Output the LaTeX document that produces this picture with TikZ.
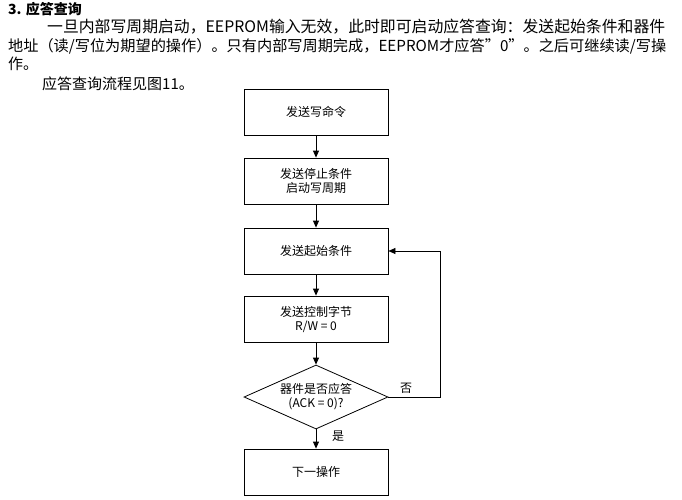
\documentclass[tikz,border=0pt]{standalone}
\usepackage{fontspec}
\setmainfont{Noto Sans CJK SC}
\usetikzlibrary{shapes.geometric,arrows.meta}
\begin{document}
\begin{tikzpicture}[x=1pt,y=-1pt,
  box/.style={draw,minimum width=144pt,minimum height=46pt,font=\fontsize{12}{14}\selectfont,align=center,line width=0.8pt},
  txt/.style={anchor=west,inner sep=0,font=\fontsize{15}{17}\selectfont},
  arr/.style={-{Triangle[length=7pt,width=6pt]},line width=0.8pt}]
\useasboundingbox (0,0) rectangle (682,500);
\node[txt,font=\fontsize{14}{15}\selectfont\bfseries] (h) at (8,9) {3. 应答查询};
\node[txt] (l1) at (47,27) {\resizebox{618pt}{!}{一旦内部写周期启动，EEPROM输入无效，此时即可启动应答查询：发送起始条件和器件}};
\node[txt] (l2) at (8,46) {\resizebox{658pt}{!}{地址（读/写位为期望的操作）。只有内部写周期完成，EEPROM才应答\symbol{34}0\symbol{34}。之后可继续读/写操}};
\node[txt] (l3) at (8,64) {作。};
\node[txt] (l4) at (42,84) {应答查询流程见图11。};
\node[box] (b1) at (316,112) {发送写命令};
\node[box] (b2) at (316,181) {发送停止条件\\启动写周期};
\node[box] (b3) at (316,251) {发送起始条件};
\node[box] (b4) at (316,319) {发送控制字节\\R/W = 0};
\node[draw,diamond,aspect=2.25,minimum width=144pt,minimum height=64pt,inner sep=0,line width=0.8pt,align=center,font=\fontsize{12}{14}\selectfont] (d) at (316,397) {器件是否应答\\(ACK = 0)?};
\node[box] (b5) at (316,472) {下一操作};
\draw[arr] (b1) -- (b2);
\draw[arr] (b2) -- (b3);
\draw[arr] (b3) -- (b4);
\draw[arr] (b4) -- (d);
\draw[arr] (d) -- (b5);
\coordinate (c1) at (440,397);
\coordinate (c2) at (440,251);
\draw[arr,line width=0.6pt] (d.east) -- (c1) -- (c2) -- (b3.east);
\node[font=\fontsize{12}{14}\selectfont] (no) at (406,388) {否};
\node[font=\fontsize{12}{14}\selectfont] (yes) at (338,436) {是};
\end{tikzpicture}
\end{document}
